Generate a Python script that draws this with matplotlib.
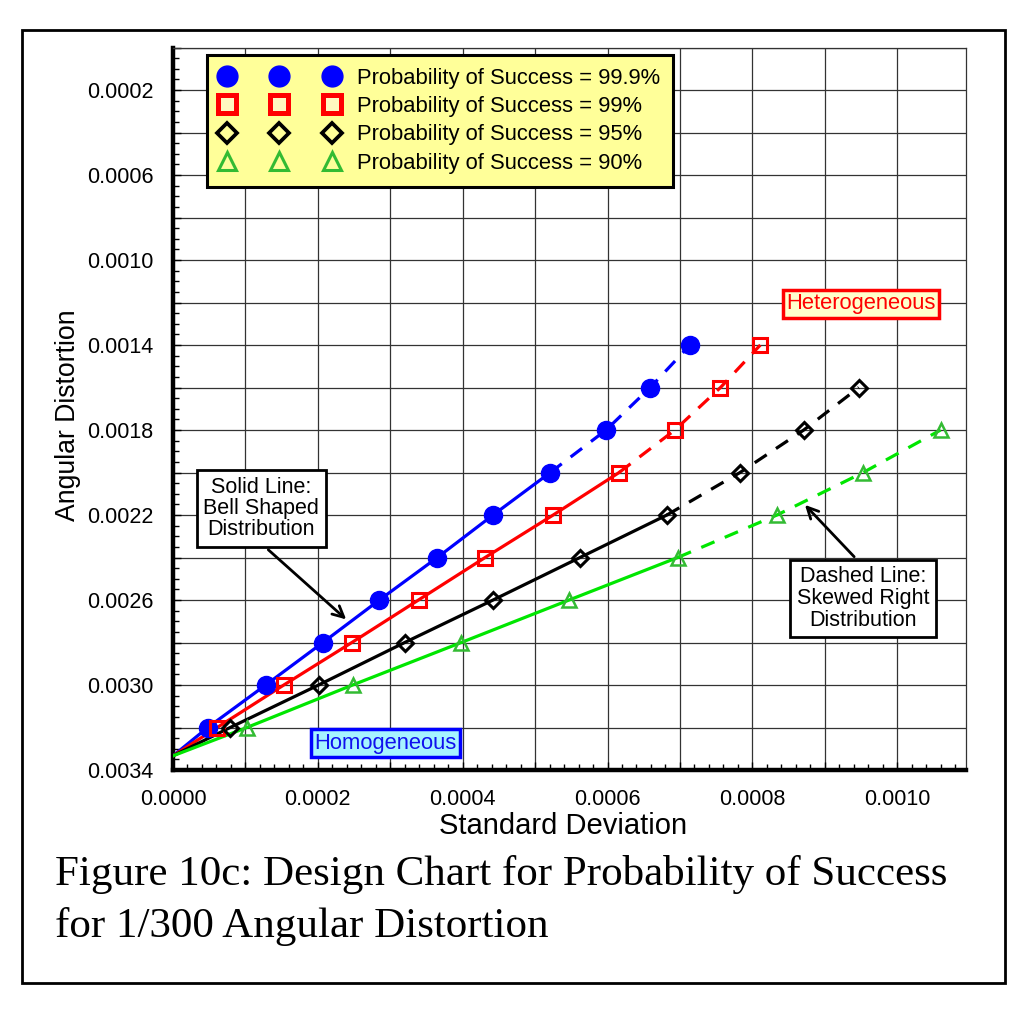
import numpy as np
import matplotlib
matplotlib.use('Agg')
import matplotlib.pyplot as plt
from matplotlib.lines import Line2D
from matplotlib.patches import Rectangle
from matplotlib.ticker import MultipleLocator, FuncFormatter

plt.rcParams['font.family'] = ['Liberation Sans', 'DejaVu Sans']

# lines all start at sd = 0, angular distortion = 1/300
origin_sd = 0.0
origin_ad = 1.0 / 300

# angular distortion levels of the plotted points
ad_blue = [0.0032, 0.0030, 0.0028, 0.0026, 0.0024, 0.0022, 0.0020, 0.0018, 0.0016, 0.0014]
ad_red = [0.0032, 0.0030, 0.0028, 0.0026, 0.0024, 0.0022, 0.0020, 0.0018, 0.0016, 0.0014]
ad_black = [0.0032, 0.0030, 0.0028, 0.0026, 0.0024, 0.0022, 0.0020, 0.0018, 0.0016]
ad_green = [0.0032, 0.0030, 0.0028, 0.0026, 0.0024, 0.0022, 0.0020, 0.0018]

# standard deviation
sd_blue = [0.000048, 0.000128, 0.000207, 0.000285, 0.000365, 0.000442, 0.000521, 0.000598, 0.000659, 0.000714]
sd_red = [0.000061, 0.000153, 0.000247, 0.000339, 0.000431, 0.000525, 0.000616, 0.000693, 0.000756, 0.000811]
sd_black = [0.000079, 0.000201, 0.000320, 0.000442, 0.000562, 0.000682, 0.000783, 0.000871, 0.000947]
sd_green = [0.000102, 0.000248, 0.000398, 0.000547, 0.000697, 0.000834, 0.000953, 0.001060]

# index of last point of the solid (bell shaped) part
solid_end = [6, 6, 5, 4]

labels = ['Probability of Success = 99.9%', 'Probability of Success = 99%',
          'Probability of Success = 95%', 'Probability of Success = 90%']


def main():
    fig = plt.figure(figsize=(10.24, 10.24), dpi=100)
    ax = fig.add_axes([173/1024, 1-770/1024, 793/1024, 722.5/1024])

    styles = [
        dict(color='#0000ff', marker='o', ms=13, mfc='#0000ff', mec='#0000ff', mew=1),
        dict(color='#ff0000', marker='s', ms=9.5, mfc='none', mec='#ff0000', mew=2.2),
        dict(color='#000000', marker='D', ms=8.5, mfc='none', mec='#000000', mew=2.2),
        dict(color='#00e600', marker='^', ms=10.5, mfc='none', mec='#33bb33', mew=1.8),
    ]
    series = [(sd_blue, ad_blue), (sd_red, ad_red), (sd_black, ad_black), (sd_green, ad_green)]

    for (sd, ad), st, k in zip(series, styles, solid_end):
        xs = [origin_sd] + sd[:k+1]
        ys = [origin_ad] + ad[:k+1]
        ax.plot(xs, ys, '-', color=st['color'], lw=2.3, zorder=3)
        ax.plot(sd[k:], ad[k:], '--', color=st['color'], lw=2.3, dashes=(4.5, 3.5), zorder=3)
        ax.plot(sd, ad, ls='none', marker=st['marker'], ms=st['ms'], mfc=st['mfc'],
                mec=st['mec'], mew=st['mew'], zorder=4)

    ax.set_xlim(0, 0.001095)
    ax.set_ylim(0.0034, 0.0)

    ax.xaxis.set_major_locator(MultipleLocator(0.0001))
    ax.xaxis.set_minor_locator(MultipleLocator(0.00002))
    ax.yaxis.set_major_locator(MultipleLocator(0.0002))
    ax.yaxis.set_minor_locator(MultipleLocator(0.00005))
    ax.xaxis.set_major_formatter(FuncFormatter(
        lambda v, p: '{:.4f}'.format(v) if int(round(v / 0.0001)) % 2 == 0 else ''))
    ax.yaxis.set_major_formatter(FuncFormatter(
        lambda v, p: '{:.4f}'.format(v) if int(round(v / 0.0002)) % 2 == 1 else ''))

    ax.tick_params(which='both', direction='in', top=False, right=False, colors='black')
    ax.tick_params(which='major', length=6, width=1, labelsize=15.5)
    ax.tick_params(which='minor', length=4, width=1)
    ax.tick_params(axis='y', pad=14)
    ax.tick_params(axis='x', pad=14)
    ax.grid(True, which='major', color='#333333', lw=0.9)
    ax.set_axisbelow(True)

    for s in ['left', 'bottom']:
        ax.spines[s].set_linewidth(3.2)
    for s in ['top', 'right']:
        ax.spines[s].set_linewidth(0.9)
        ax.spines[s].set_color('#333333')

    ax.set_xlabel('Standard Deviation', fontsize=21)
    ax.set_ylabel('Angular Distortion', fontsize=19.2)
    ax.xaxis.set_label_coords(0.492, -0.078)
    ax.xaxis.label.set_va('center')
    ax.yaxis.set_label_coords(-0.1324, 0.491)
    ax.yaxis.label.set_va('center')

    # legend with three markers per entry
    handles = [
        Line2D([], [], ls='none', marker='o', ms=15, mfc='#0000ff', mec='#0000ff'),
        Line2D([], [], ls='none', marker='s', ms=12.5, mfc='#fff8c0', mec='#ff0000', mew=3.6),
        Line2D([], [], ls='none', marker='D', ms=10, mfc='none', mec='#000000', mew=2.7),
        Line2D([], [], ls='none', marker='^', ms=12.5, mfc='none', mec='#33bb33', mew=2.2),
    ]
    leg = ax.legend(handles, labels, loc='upper left', bbox_to_anchor=(0.0428, 0.99),
                    borderaxespad=0, numpoints=3, handlelength=5.4, handletextpad=0.84,
                    labelspacing=0.33, borderpad=0.6, fontsize=15.8, fancybox=False,
                    framealpha=1, facecolor='#ffff99', edgecolor='black')
    leg.get_frame().set_linewidth(2.2)
    leg.set_zorder(10)

    ax.annotate('Solid Line:\nBell Shaped\nDistribution', xy=(0.000242, 0.0027),
                xytext=(0.000122, 0.00217), ha='center', va='center', fontsize=15.5,
                linespacing=1.02,
                bbox=dict(boxstyle='square,pad=0.3', fc='white', ec='black', lw=2),
                arrowprops=dict(arrowstyle='->', color='black', lw=2, relpos=(0.47, 0),
                                mutation_scale=20), zorder=6)
    ax.annotate('Dashed Line:\nSkewed Right\nDistribution', xy=(0.000870, 0.002143),
                xytext=(0.000953, 0.002593), ha='center', va='center', fontsize=15.5,
                linespacing=1.05,
                bbox=dict(boxstyle='square,pad=0.3', fc='white', ec='black', lw=2),
                arrowprops=dict(arrowstyle='->', color='black', lw=2, relpos=(0.5, 1),
                                mutation_scale=20), zorder=6)

    ax.text(0.000950, 0.001207, 'Heterogeneous', color='#ff0000', ha='center', va='center',
            fontsize=15.8, bbox=dict(boxstyle='square,pad=0.15', fc='#ffffcc', ec='#ff0000', lw=2.5),
            zorder=6)
    ax.text(0.0002935, 0.003273, 'Homogeneous', color='#1010ee', ha='center', va='center',
            fontsize=15.8, bbox=dict(boxstyle='square,pad=0.15', fc='#a6f3ff', ec='#0000ff', lw=2.5),
            zorder=6)

    # caption and outer frame
    fig.text(55/1024, 1-875/1024, 'Figure 10c: Design Chart for Probability of Success',
             va='center', ha='left', fontsize=31, family='Liberation Serif')
    fig.text(55/1024, 1-927/1024, 'for 1/300 Angular Distortion',
             va='center', ha='left', fontsize=31, family='Liberation Serif')
    fig.patches.append(Rectangle((22/1024, 1-983/1024), 983/1024, 953/1024,
                                 transform=fig.transFigure, fill=False, lw=2, ec='black'))

    fig.savefig('out.png', dpi=100, facecolor='white')


if __name__ == '__main__':
    main()
